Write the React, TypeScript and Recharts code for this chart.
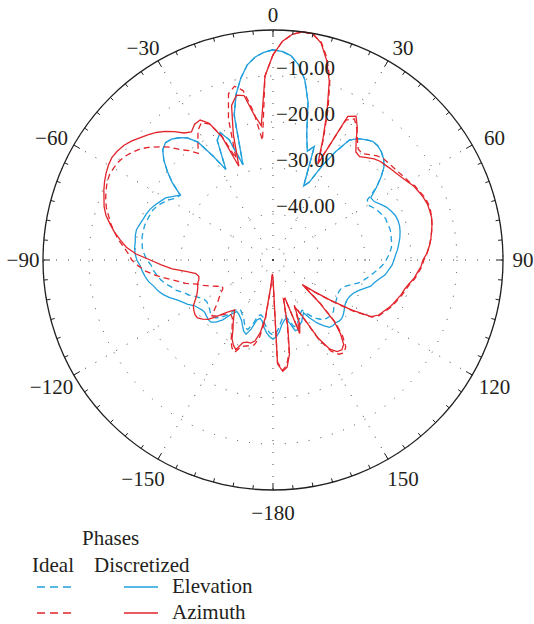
import React from 'react';
import { RadarChart, Radar, PolarGrid, PolarAngleAxis, PolarRadiusAxis } from 'recharts';

// angle grid, clockwise from 0 (top), every 2.5 degrees
const angles = Array.from({ length: 144 }, (_, i) => i * 2.5);

// normalized gain in dB, one row of 12 values per 30 degrees
const elevationIdeal = [
  -4.3, -4.6, -5.4, -7.2, -10.2, -14.8, -21.7, -25.2, -23.7, -32.6, -31.3, -27.0,
  -22.8, -19.1, -17.8, -17.0, -16.3, -16.3, -16.7, -17.4, -18.5, -20.4, -22.6, -25.7,
  -26.1, -25.4, -24.8, -24.3, -23.9, -23.9, -23.7, -23.7, -23.9, -23.9, -24.3, -24.8,
  -25.4, -26.1, -27.0, -28.0, -28.9, -29.8, -30.7, -32.2, -33.3, -33.9, -34.1, -34.1,
  -33.9, -33.7, -33.5, -33.3, -32.8, -32.6, -32.6, -32.8, -33.0, -33.9, -34.8, -36.1,
  -37.4, -37.0, -36.1, -35.7, -34.8, -34.8, -36.3, -37.6, -37.4, -36.5, -35.2, -34.1,
  -33.7, -34.1, -35.0, -36.1, -37.4, -37.8, -37.4, -35.4, -33.9, -34.1, -35.2, -36.1,
  -36.5, -37.0, -37.0, -36.1, -34.3, -33.0, -32.2, -32.0, -32.2, -32.6, -32.8, -33.0,
  -32.8, -32.2, -31.3, -30.2, -29.3, -28.0, -27.2, -26.1, -25.2, -24.6, -23.9, -23.5,
  -22.6, -22.0, -21.5, -21.3, -21.1, -21.1, -21.1, -21.3, -21.5, -21.7, -22.2, -23.0,
  -23.9, -25.0, -25.4, -22.4, -20.0, -17.8, -16.1, -15.4, -15.7, -16.5, -17.6, -19.6,
  -23.9, -27.8, -21.3, -20.0, -22.2, -28.3, -17.4, -13.0, -9.8, -7.2, -5.7, -4.8,
];

const elevationDiscretized = [
  -4.3, -4.6, -5.4, -7.2, -10.2, -14.8, -21.7, -25.2, -23.7, -32.6, -31.3, -27.0,
  -22.8, -19.1, -17.8, -17.0, -16.3, -16.3, -16.7, -17.4, -18.5, -20.4, -22.6, -24.8,
  -24.6, -23.7, -22.8, -22.2, -21.7, -21.5, -21.5, -21.7, -22.0, -22.4, -22.8, -23.3,
  -23.7, -24.1, -24.8, -25.4, -26.5, -27.4, -28.0, -29.3, -30.4, -31.1, -31.5, -31.7,
  -31.7, -31.5, -31.1, -30.7, -30.4, -30.4, -30.7, -30.7, -30.9, -32.0, -33.3, -35.0,
  -36.7, -36.1, -35.2, -34.8, -33.9, -33.9, -35.7, -37.0, -36.5, -35.7, -34.3, -33.3,
  -32.8, -33.3, -34.1, -35.2, -36.5, -37.0, -36.5, -34.3, -32.8, -33.3, -34.3, -35.2,
  -35.7, -36.1, -36.3, -35.2, -33.0, -31.7, -30.9, -30.9, -31.1, -31.3, -31.1, -30.7,
  -30.2, -29.1, -28.3, -27.4, -26.1, -25.0, -24.1, -23.5, -22.6, -22.0, -21.5, -21.1,
  -20.4, -20.0, -19.8, -19.8, -19.6, -19.6, -20.0, -20.4, -20.7, -21.1, -21.7, -22.4,
  -23.0, -24.3, -25.4, -22.4, -20.0, -17.8, -16.1, -15.4, -15.7, -16.5, -17.6, -19.6,
  -23.9, -27.8, -21.3, -20.0, -22.2, -28.3, -17.4, -13.0, -9.8, -7.2, -5.7, -4.8,
];

const azimuthIdeal = [
  -5.4, -2.4, -0.7, 0, -0.2, -1.5, -4.6, -8.9, -15.0, -21.3, -26.5, -15.7,
  -14.6, -16.1, -18.0, -19.6, -19.8, -18.9, -18.0, -17.4, -17.2, -17.0, -16.7, -16.3,
  -15.9, -15.2, -14.8, -14.3, -14.1, -14.1, -14.3, -14.6, -15.0, -15.4, -15.9, -16.5,
  -17.2, -17.6, -18.3, -18.9, -19.8, -20.4, -20.9, -21.5, -22.0, -22.6, -23.3, -23.9,
  -25.2, -29.3, -34.3, -38.5, -41.3, -36.1, -30.9, -27.6, -25.4, -24.6, -25.0, -26.5,
  -30.0, -36.1, -39.1, -35.7, -33.9, -40.9, -41.3, -35.7, -29.8, -27.0, -25.9, -27.8,
  -45.7, -46.7, -43.5, -36.5, -32.8, -31.1, -30.7, -30.4, -30.0, -28.3, -28.9, -30.2,
  -32.2, -33.5, -34.6, -35.0, -34.8, -33.9, -32.8, -32.0, -33.5, -34.8, -35.7, -36.5,
  -37.4, -37.6, -36.5, -35.2, -33.9, -32.6, -30.4, -28.7, -26.7, -24.3, -22.2, -20.7,
  -19.3, -18.5, -17.4, -16.1, -15.0, -13.9, -13.0, -12.0, -11.3, -10.7, -10.2, -9.9,
  -10.0, -10.2, -10.7, -11.5, -12.4, -13.7, -15.2, -16.7, -18.7, -20.0, -21.7, -19.6,
  -17.4, -16.3, -17.4, -20.7, -26.5, -17.8, -12.6, -11.3, -12.6, -17.4, -23.9, -10.0,
];

const azimuthDiscretized = [
  -5.4, -2.4, -0.7, 0, 0, -1.7, -5.0, -9.3, -15.7, -21.7, -27.0, -14.8,
  -13.9, -15.9, -18.5, -20.4, -20.7, -19.8, -18.9, -18.3, -18.0, -17.6, -17.2, -16.7,
  -16.1, -15.4, -15.0, -14.6, -14.3, -14.3, -14.3, -14.6, -15.0, -15.4, -15.9, -16.5,
  -17.4, -17.8, -18.5, -19.1, -20.0, -20.7, -21.1, -21.7, -22.2, -22.8, -23.5, -24.1,
  -25.4, -29.8, -34.8, -38.7, -41.7, -36.5, -31.3, -28.3, -26.1, -25.4, -25.7, -27.0,
  -30.4, -36.3, -38.7, -34.8, -33.0, -41.3, -40.9, -35.2, -29.3, -26.5, -25.7, -27.4,
  -46.1, -47.0, -43.9, -37.4, -33.9, -32.0, -31.3, -31.3, -30.9, -28.9, -29.6, -30.7,
  -32.6, -33.9, -35.2, -36.3, -35.4, -34.3, -32.6, -30.9, -30.0, -29.3, -29.3, -29.6,
  -30.0, -30.9, -31.7, -32.2, -32.6, -32.8, -33.3, -33.5, -33.0, -30.9, -28.0, -25.7,
  -23.3, -20.2, -18.0, -16.5, -15.0, -13.7, -12.4, -11.5, -10.9, -10.2, -9.6, -9.1,
  -8.7, -8.5, -8.7, -9.1, -9.8, -10.7, -11.5, -12.4, -13.5, -14.8, -16.3, -17.0,
  -15.9, -15.7, -17.2, -21.1, -28.3, -21.3, -15.2, -13.3, -13.7, -18.0, -20.7, -10.0,
];

const angleLabels = ['0', '30', '60', '90', '120', '150', '\u2212180', '\u2212150', '\u2212120', '\u221290', '\u221260', '\u221230'];
const radiusLabels = [-40, -30, -20, -10];

const data = angles.map((angle, i) => ({
  angle,
  elI: elevationIdeal[i],
  elD: elevationDiscretized[i],
  azI: azimuthIdeal[i],
  azD: azimuthDiscretized[i],
}));

const W = 534;
const H = 624;
const CX = 273;
const CY = 260;
const R = 230;
const BLUE = '#1f9fdc';
const RED = '#e2242b';
const INK = '#231f20';
const FONT = '"Liberation Serif", "DejaVu Serif", serif';

function AngleTick(props: any) {
  const { payload } = props;
  const deg = Number(payload.value);
  if (deg % 5 !== 0) return <g />;
  const rad = (payload.coordinate * Math.PI) / 180;
  const c = Math.cos(rad);
  const s = Math.sin(rad);
  const major = deg % 30 === 0;
  const len = major ? 7 : 4;
  // labels sit a bit further out below the centre and beside it
  const lx = CX + 250 * c + (Math.abs(c) > 0.1 && Math.abs(c) < 0.99 ? Math.sign(c) * 5 : 0);
  const ly = CY - (s > 0 ? 245 : 253) * s;
  return (
    <g>
      <line x1={CX + R * c} y1={CY - R * s} x2={CX + (R - len) * c} y2={CY - (R - len) * s} stroke={INK} strokeWidth={1} />
      {major && (
        <text x={lx} y={ly} dy="0.35em" textAnchor="middle" fontFamily={FONT} fontSize={21} fill={INK}>
          {angleLabels[deg / 30]}
        </text>
      )}
    </g>
  );
}

function RadiusTick(props: any) {
  const { x, y, payload } = props;
  if (!radiusLabels.includes(payload.value)) return <g />;
  return (
    <text x={x + 3} y={y - 1} textAnchor="start" fontFamily={FONT} fontSize={21} fill={INK}>
      {`\u2212${Math.abs(payload.value).toFixed(2)}`}
    </text>
  );
}

function LegendBox() {
  const txt = { fontFamily: FONT, fontSize: 21, fill: INK };
  return (
    <svg width={W} height={H} style={{ position: 'absolute', left: 0, top: 0, pointerEvents: 'none' }}>
      <text x={82} y={545} {...txt}>Phases</text>
      <text x={32} y={572} {...txt}>Ideal</text>
      <text x={94} y={572} {...txt}>Discretized</text>
      <line x1={37} y1={587} x2={72} y2={587} stroke={BLUE} strokeWidth={1.3} strokeDasharray="8 5" />
      <line x1={124} y1={587} x2={158} y2={587} stroke={BLUE} strokeWidth={1.3} />
      <text x={172} y={593} {...txt}>Elevation</text>
      <line x1={37} y1={613} x2={72} y2={613} stroke={RED} strokeWidth={1.3} strokeDasharray="8 5" />
      <line x1={124} y1={613} x2={158} y2={613} stroke={RED} strokeWidth={1.3} />
      <text x={172} y={619} {...txt}>Azimuth</text>
    </svg>
  );
}

export default function App() {
  return (
    <div style={{ position: 'relative', width: W, height: H, background: '#fff' }}>
      <style>{'body { margin: 0; }'}</style>
      <RadarChart width={W} height={H} data={data} cx={CX} cy={CY} outerRadius={R} startAngle={90} endAngle={-270}>
        <PolarGrid gridType="circle" polarAngles={[0, 30, 60, 90, 120, 150, 180, 210, 240, 270, 300, 330]} stroke="#444" strokeDasharray="1 11" />
        <PolarAngleAxis dataKey="angle" axisLineType="circle" axisLine={{ stroke: INK, strokeWidth: 1.3 }} tickLine={false} tick={<AngleTick />} />
        <PolarRadiusAxis angle={90} domain={[-50, 0]} type="number" tickCount={6} axisLine={false} tickLine={false} tick={<RadiusTick />} />
        <Radar dataKey="elI" stroke={BLUE} strokeWidth={1.3} strokeDasharray="6 4" fill="none" fillOpacity={0} dot={false} isAnimationActive={false} />
        <Radar dataKey="elD" stroke={BLUE} strokeWidth={1.3} fill="none" fillOpacity={0} dot={false} isAnimationActive={false} />
        <Radar dataKey="azI" stroke={RED} strokeWidth={1.3} strokeDasharray="6 4" fill="none" fillOpacity={0} dot={false} isAnimationActive={false} />
        <Radar dataKey="azD" stroke={RED} strokeWidth={1.3} fill="none" fillOpacity={0} dot={false} isAnimationActive={false} />
      </RadarChart>
      <LegendBox />
    </div>
  );
}
